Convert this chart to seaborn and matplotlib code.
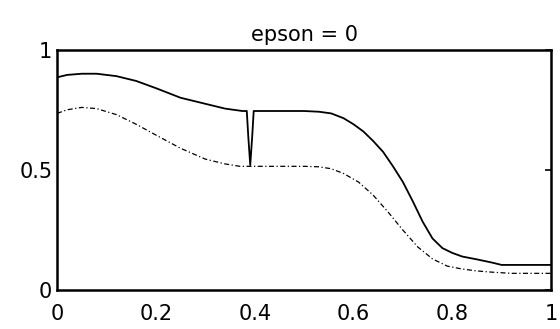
import numpy as np
import pandas as pd
import matplotlib
matplotlib.use('Agg')
import matplotlib.pyplot as plt
import seaborn as sns

# upper solid curve (with the narrow dip near x=0.39)
x_upper = [0.0, 0.02, 0.05, 0.08, 0.12, 0.16, 0.20, 0.25, 0.30, 0.34, 0.375, 0.384,
           0.387, 0.391, 0.395, 0.398, 0.45, 0.50, 0.53, 0.555, 0.58, 0.60, 0.62,
           0.64, 0.66, 0.68, 0.70, 0.72, 0.74, 0.76, 0.78, 0.80, 0.82, 0.85,
           0.88, 0.90, 0.95, 1.0]
y_upper = [0.885, 0.895, 0.90, 0.90, 0.89, 0.87, 0.84, 0.80, 0.775, 0.755, 0.745, 0.745,
           0.64, 0.52, 0.64, 0.745, 0.745, 0.745, 0.742, 0.735, 0.715, 0.69, 0.66,
           0.62, 0.575, 0.515, 0.45, 0.37, 0.285, 0.215, 0.175, 0.155, 0.14, 0.128,
           0.115, 0.105, 0.105, 0.105]

# lower dash-dot curve
x_lower = [0.0, 0.02, 0.05, 0.08, 0.12, 0.16, 0.20, 0.25, 0.30, 0.34, 0.37, 0.40,
           0.45, 0.50, 0.53, 0.555, 0.58, 0.61, 0.64, 0.67, 0.70, 0.73, 0.76,
           0.79, 0.82, 0.85, 0.88, 0.92, 1.0]
y_lower = [0.735, 0.75, 0.76, 0.755, 0.73, 0.69, 0.645, 0.59, 0.545, 0.525, 0.515, 0.515,
           0.515, 0.515, 0.513, 0.505, 0.485, 0.45, 0.395, 0.325, 0.25, 0.18, 0.13,
           0.10, 0.088, 0.08, 0.075, 0.07, 0.07]

upper = pd.DataFrame({'x': x_upper, 'y': y_upper})
lower = pd.DataFrame({'x': x_lower, 'y': y_lower})

sns.set_style('white')
plt.rcParams['font.family'] = ['DejaVu Sans']

fig = plt.figure(figsize=(5.6, 3.29), dpi=100)
ax = fig.add_axes([0.102, 0.118, 0.882, 0.731])

sns.lineplot(data=upper, x='x', y='y', color='black', linewidth=1.3, ax=ax, sort=False)
sns.lineplot(data=lower, x='x', y='y', color='black', linewidth=0.9,
             linestyle=(0, (4, 2, 1, 2)), ax=ax, sort=False)

ax.set_xlim(0, 1)
ax.set_ylim(0, 1)
ax.set_xticks([0, 0.2, 0.4, 0.6, 0.8, 1])
ax.set_xticklabels(['0', '0.2', '0.4', '0.6', '0.8', '1'])
ax.set_yticks([0, 0.5, 1])
ax.set_yticklabels(['0', '0.5', '1'])
ax.tick_params(axis='both', labelsize=15, direction='in', length=4, width=1.2,
               right=True, colors='black')
ax.tick_params(axis='x', length=0, pad=10)
ax.set_xlabel('')
ax.set_ylabel('')
ax.set_title('epson = 0', fontsize=15, pad=6, color='black')
for s in ax.spines.values():
    s.set_visible(True)
    s.set_color('black')
    s.set_linewidth(1.8)

fig.savefig('out.png', dpi=100)
